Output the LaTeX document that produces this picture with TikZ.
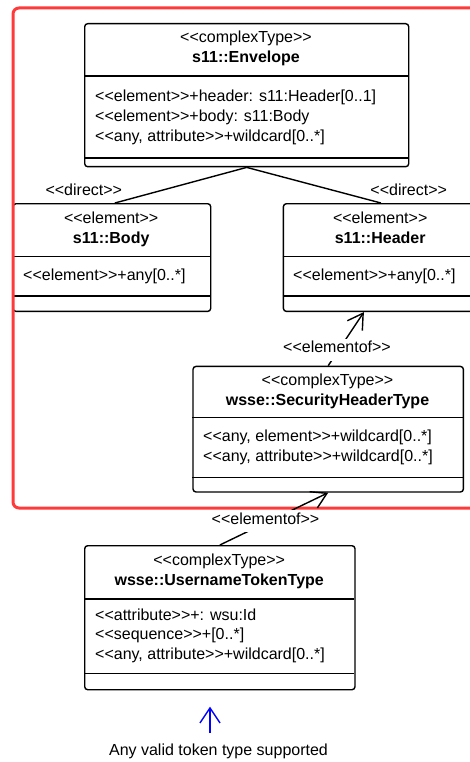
\documentclass[tikz,border=0pt]{standalone}
\usepackage{fontspec}
\setmainfont{Liberation Sans}[Ligatures=TeXOff]
\usetikzlibrary{arrows.meta,calc}
\definecolor{framered}{RGB}{255,58,58}
\definecolor{tokblue}{RGB}{0,0,255}
\begin{document}
\begin{tikzpicture}[x=1pt,y=-1pt,
  cls/.style={draw, line width=1.4pt, rounded corners=3pt, inner sep=0pt, anchor=north west},
  sepline/.style={line width=1.4pt},
  txt/.style={inner sep=0pt, font=\fontsize{16}{20}\selectfont},
  head/.style={txt, anchor=base},
  title/.style={txt, anchor=base, font=\fontsize{16}{20}\selectfont\bfseries},
  attr/.style={txt, anchor=base west},
  conn/.style={line width=1.4pt},
  openarrow/.style={conn, -{Straight Barb[length=15pt,width=18pt,line width=1.4pt]}},
  lbl/.style={txt, anchor=base, fill=white, inner xsep=1pt, inner ysep=2pt, text depth=6pt},
  framebox/.style={draw=framered, line width=3pt, rounded corners=6pt}
]
\clip (0,0) rectangle (470,762);
\fill[white] (0,0) rectangle (470,762);

% s11::Envelope
\node[cls, minimum width=324pt, minimum height=143pt] (env) at (84,23) {};
\draw[sepline] (84,76) -- (408,76);
\draw[sepline] (84,158) -- (408,158);
\node[head] (envS) at (246,43) {<<complexType>>};
\node[title] (envT) at (246,63) {s11::Envelope};
\node[attr] (envA1) at (95,102) {<<element>>+header: s11:Header[0..1]};
\node[attr] (envA2) at (95,122) {<<element>>+body: s11:Body};
\node[attr] (envA3) at (95,142) {<<any, attribute>>+wildcard[0..*]};

% s11::Body
\node[cls, minimum width=197.7pt, minimum height=107.7pt] (body) at (12.3,203) {};
\draw[sepline] (12.3,256.7) -- (210,256.7);
\draw[sepline] (12.3,296) -- (210,296);
\node[head] (bodyS) at (111.2,223) {<<element>>};
\node[title] (bodyT) at (111.2,243) {s11::Body};
\node[attr] (bodyA1) at (23,280.7) {<<element>>+any[0..*]};

% s11::Header
\node[cls, minimum width=195pt, minimum height=107.7pt] (hdr) at (282.7,203) {};
\draw[sepline] (282.7,256.7) -- (477.7,256.7);
\draw[sepline] (282.7,296) -- (477.7,296);
\node[head] (hdrS) at (380.2,223) {<<element>>};
\node[title] (hdrT) at (380.2,243) {s11::Header};
\node[attr] (hdrA1) at (293,280.7) {<<element>>+any[0..*]};

% wsse::SecurityHeaderType
\node[cls, minimum width=270.4pt, minimum height=125.6pt] (sec) at (192.3,365.7) {};
\draw[sepline] (192.3,417.7) -- (462.7,417.7);
\draw[sepline] (192.3,477.3) -- (462.7,477.3);
\node[head] (secS) at (327.5,385) {<<complexType>>};
\node[title] (secT) at (327.5,405) {wsse::SecurityHeaderType};
\node[attr] (secA1) at (203,441.7) {<<any, element>>+wildcard[0..*]};
\node[attr] (secA2) at (203,461.7) {<<any, attribute>>+wildcard[0..*]};

% wsse::UsernameTokenType
\node[cls, minimum width=270.3pt, minimum height=144pt] (user) at (84,545) {};
\draw[sepline] (84,599) -- (354.3,599);
\draw[sepline] (84,673.3) -- (354.3,673.3);
\node[head] (userS) at (219.2,565) {<<complexType>>};
\node[title] (userT) at (219.2,585) {wsse::UsernameTokenType};
\node[attr] (userA1) at (95,620) {<<attribute>>+: wsu:Id};
\node[attr] (userA2) at (95,639.5) {<<sequence>>+[0..*]};
\node[attr] (userA3) at (95,659) {<<any, attribute>>+wildcard[0..*]};

% red frame
\draw[framebox] (13,8) rectangle (495,508);

% connectors
\draw[conn] (env.south) -- ([xshift=3pt]body.north);
\draw[conn] (env.south) -- (hdr.north);
\node[head] (dirL) at (83.8,195) {<<direct>>};
\node[head] (dirR) at (408.7,195) {<<direct>>};

\draw[openarrow] (sec.north) -- ([xshift=-17pt]hdr.south);
\node[lbl] (elof1) at (337,352.7) {<<elementof>>};

\draw[openarrow] (user.north) -- (sec.south);
\node[lbl] (elof2) at (265.5,524) {<<elementof>>};

% token note
\node[head] (tok) at (218.5,755) {Any valid token type supported};
\coordinate (tail) at (210,733);
\coordinate (tip) at (210,706.7);
\draw[line width=1.4pt, draw=tokblue, -{Straight Barb[length=15pt,width=20pt,line width=1.4pt]}] (tail) -- (tip);
\end{tikzpicture}
\end{document}
